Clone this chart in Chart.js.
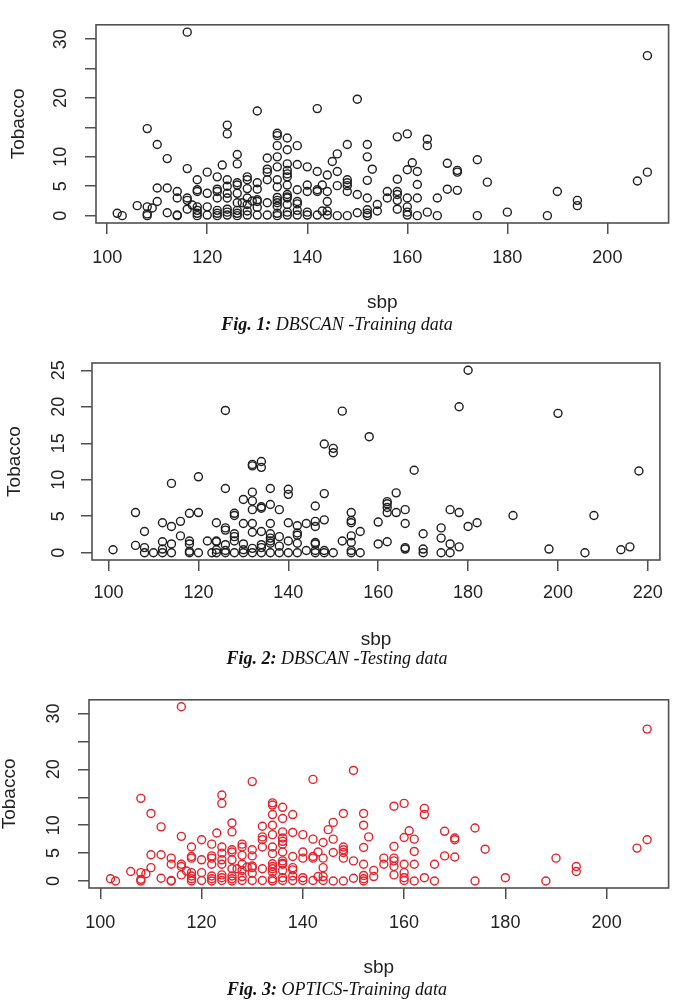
<!DOCTYPE html>
<html>
<head>
<meta charset="utf-8">
<script src="https://cdn.jsdelivr.net/npm/chart.js@4.4.1/dist/chart.umd.min.js"></script>
<style>
  html, body { margin: 0; padding: 0; background: #fff; }
  body { width: 674px; height: 1007px; position: relative; overflow: hidden; }
  canvas { position: absolute; left: 0; }
  .caption {
    position: absolute; left: 0; width: 674px; text-align: center;
    font-family: "Liberation Serif", "Times New Roman", serif; font-style: italic;
    font-size: 18px; line-height: 20px; color: #111;
  }
</style>
</head>
<body>

<canvas id="chart1" width="674" height="315" style="top:0px"></canvas>
<div class="caption" style="top:314px"><b>Fig. 1:</b> DBSCAN -Training data</div>

<canvas id="chart2" width="674" height="312" style="top:340px"></canvas>
<div class="caption" style="top:648px"><b>Fig. 2:</b> DBSCAN -Testing data</div>

<canvas id="chart3" width="674" height="305" style="top:675px"></canvas>
<div class="caption" style="top:979px"><b>Fig. 3:</b> OPTICS-Training data</div>

<script>

// training set (used by fig 1 and fig 3)
const trainSbp = [
  102,103,106,108,108,108,109,110,110,108,110,112,112,112,114,114,114,114,
  116,116,116,116,116,117,118,118,118,118,118,118,118,120,120,120,120,
  122,122,122,122,122,122,122,123,124,124,124,124,124,124,124,124,124,
  126,126,126,126,126,126,126,126,126,127,128,128,128,128,128,128,128,129,
  130,130,130,130,130,130,130,132,132,132,132,132,132,
  134,134,134,134,134,134,134,134,134,134,134,134,134,
  136,136,136,136,136,136,136,136,136,136,136,136,136,
  138,138,138,138,138,138,138,140,140,140,140,140,
  142,142,142,142,142,143,143,144,144,144,144,144,145,146,146,146,146,
  148,148,148,148,148,148,150,150,150,152,152,152,152,152,152,152,153,154,154,
  156,156,158,158,158,158,158,158,160,160,160,160,160,160,161,162,162,162,162,
  164,164,164,166,166,168,168,170,170,170,174,174,176,180,188,190,194,194,206,208,208
];
const trainTobacco = [
  0.4,0,1.7,1.5,0.3,0,1.3,2.4,4.7,14.8,12.1,9.7,4.7,0.5,4.1,3.0,0.1,0,
  31.2,8.0,3.0,2.6,1.1,1.8,6.1,4.4,4.1,1.5,0.9,0.4,0,7.4,3.8,1.5,0.1,
  6.6,4.5,4.1,3.0,0.9,0.4,0,8.6,15.4,13.9,6.1,5.0,3.8,3.0,1.1,0.6,0.1,
  10.4,8.8,5.6,5.2,3.8,2.2,0.9,0.4,0,2.2,6.6,6.1,4.6,3.0,1.9,0.8,0.1,2.5,
  17.8,5.6,4.5,2.7,2.4,1.4,0.1,9.8,7.9,7.4,6.1,2.2,0.1,
  14.0,13.6,11.9,10.0,8.3,6.1,4.9,3.1,2.6,2.2,1.6,0.4,0,
  13.2,11.2,8.8,7.7,7.1,6.6,5.2,3.6,3.2,3.0,1.9,0.6,0.1,
  11.9,8.7,4.4,2.4,2.0,0.9,0.1,8.3,5.2,4.1,0.6,0.1,
  18.2,7.5,4.4,4.1,0.1,5.2,0.8,6.9,4.1,2.4,0.8,0.1,9.2,10.5,7.5,5.1,0,
  12.1,6.1,5.6,5.1,4.1,0,19.8,3.6,0.5,12.1,10.0,6.0,3.0,1.0,0.4,0,7.9,1.9,0.8,
  4.1,3.0,13.4,6.2,4.1,3.6,2.6,1.1,13.9,7.8,3.0,1.5,0.6,0.1,9.0,7.5,5.3,3.0,0,
  13.0,11.9,0.6,3.0,0,8.9,4.5,7.7,7.4,4.3,9.5,0,5.7,0.6,0,4.1,2.6,1.7,5.9,7.4,27.2
];

// testing set (fig 2)
const testSbp = [
  101,106,106,108,108,108,110,112,112,112,112,114,114,114,114,116,116,
  118,118,118,118,118,120,120,120,122,123,124,124,124,124,124,
  126,126,126,126,126,126,126,128,128,128,128,128,128,130,130,130,130,130,
  132,132,132,132,132,132,132,132,132,134,134,134,134,134,134,134,134,
  136,136,136,136,136,136,136,136,138,138,138,138,140,140,140,140,140,
  142,142,142,142,142,144,144,146,146,146,146,146,146,146,148,148,148,148,148,
  150,150,150,152,152,154,154,154,154,154,154,154,156,156,158,160,160,
  162,162,162,162,162,164,164,166,166,166,166,168,170,170,170,174,174,174,
  176,176,176,178,178,178,180,180,182,190,198,200,206,208,214,216,218
];
const testTobacco = [
  0.4,5.5,1.0,2.9,0.7,0,0,4.1,1.5,0.5,0,9.5,3.6,1.2,0,4.3,2.3,
  5.4,1.6,1.2,0.2,0,10.4,5.5,0,1.6,0,4.1,1.6,1.5,0.4,0,
  19.5,8.8,3.4,3.1,1.1,0.3,0,5.4,5.1,2.6,2.2,1.6,0,7.3,4.0,1.2,0.4,0,
  12.1,11.9,8.3,7.1,5.9,4.0,2.8,0.6,0,12.5,11.7,6.3,6.1,2.9,1.1,0.7,0,
  8.8,6.6,4.0,2.6,2.0,1.6,1.3,0,5.9,2.2,0.9,0,8.7,8.0,4.1,1.6,0,
  3.7,2.7,2.4,1.3,0,4.0,0.3,6.4,4.3,3.6,1.4,1.2,0.3,0,14.9,8.1,4.5,0.3,0,
  14.3,13.7,0,19.4,1.6,5.5,4.4,4.1,2.3,1.4,0.3,0,2.9,0,15.9,4.2,1.2,
  7.0,6.7,6.2,5.5,1.5,8.2,5.5,5.9,4.0,0.7,0.5,11.3,2.6,0.5,0,3.4,2.0,0,
  5.9,1.2,0,20.0,5.5,0.8,25.0,3.6,4.1,5.1,0.5,19.1,0,5.1,0.4,0.8,11.2
];

const trainXTicks = [100, 120, 140, 160, 180, 200];
const trainYTicks = [0, 5, 10, 15, 20, 25, 30];
const trainYLabels = ['0', '5', '10', '', '20', '', '30'];
const testXTicks = [100, 120, 140, 160, 180, 200, 220];
const testYTicks = [0, 5, 10, 15, 20, 25];
const testYLabels = ['0', '5', '10', '15', '20', '25'];


function toPoints(xs, ys) {
  return xs.map((x, i) => ({ x: x, y: ys[i] }));
}

// R widens the data range by 4% on each side
function rRange(vals) {
  const lo = Math.min(...vals);
  const hi = Math.max(...vals);
  const d = (hi - lo) * 0.04;
  return [lo - d, hi + d];
}

// the closed box R draws round the plot region
const boxPlugin = {
  id: 'rbox',
  afterDraw(chart) {
    const a = chart.chartArea;
    const ctx = chart.ctx;
    ctx.save();
    ctx.strokeStyle = '#505050';
    ctx.lineWidth = 1.6;
    ctx.strokeRect(a.left, a.top, a.right - a.left, a.bottom - a.top);
    ctx.restore();
  }
};

function drawPanel(id, g, xs, ys, xTicks, yTicks, yLabels, color) {

  const xr = rRange(xs);
  const yr = rRange(ys);
  const tickFont = { family: 'Liberation Sans', size: 18 };
  const titleFont = { family: 'Liberation Sans', size: 19, lineHeight: 1 };
  const gridOpts = { drawOnChartArea: false, drawTicks: true, tickLength: 11, color: '#505050', lineWidth: 1.5 };

  const ctx = document.getElementById(id).getContext('2d');
  new Chart(ctx, {
    type: 'scatter',
    data: {
      datasets: [{
        data: toPoints(xs, ys),
        pointStyle: 'circle',
        pointRadius: 4,
        pointBorderWidth: 1.4,
        borderColor: color,
        backgroundColor: 'rgba(0,0,0,0)'
      }]
    },
    options: {
      responsive: false,
      animation: false,
      events: [],
      layout: { padding: { left: 0, top: g.top, right: 674 - g.right, bottom: 0 } },
      plugins: { legend: { display: false }, tooltip: { enabled: false } },
      scales: {
        x: {
          type: 'linear',
          min: xr[0],
          max: xr[1],
          afterBuildTicks: (s) => { s.ticks = xTicks.map(v => ({ value: v })); },
          afterFit: (s) => { s.height = g.h - g.bottom; },
          grid: gridOpts,
          border: { display: false },
          ticks: { padding: g.xPad, color: '#222', font: tickFont, maxRotation: 0, autoSkip: false },
          title: { display: true, text: 'sbp', color: '#222', font: titleFont, padding: { top: 0, bottom: 2.5 } }
        },
        y: {
          type: 'linear',
          min: yr[0],
          max: yr[1],
          afterBuildTicks: (s) => { s.ticks = yTicks.map(v => ({ value: v })); },
          afterFit: (s) => { s.width = g.left; },
          grid: gridOpts,
          border: { display: false },
          ticks: {
            padding: g.yPad, color: '#222', font: tickFont, autoSkip: false,
            minRotation: 90, maxRotation: 90, crossAlign: 'center',
            callback: (v, i) => yLabels[i]
          },
          title: { display: true, text: 'Tobacco', color: '#222', font: titleFont, padding: { top: g.yTitle, bottom: 0 } }
        }
      }
    },
    plugins: [boxPlugin]
  });

}

const geom1 = { h: 315, top: 9, bottom: 223, left: 96, right: 672, xPad: 13, yPad: 14, yTitle: 9 };
const geom2 = { h: 312, top: 23, bottom: 220, left: 92, right: 669, xPad: 11, yPad: 12, yTitle: 5.5 };
const geom3 = { h: 305, top: 15, bottom: 213, left: 89, right: 670, xPad: 13, yPad: 14, yTitle: 0.5 };

drawPanel('chart1', geom1, trainSbp, trainTobacco, trainXTicks, trainYTicks, trainYLabels, '#1e1e1e');
drawPanel('chart2', geom2, testSbp, testTobacco, testXTicks, testYTicks, testYLabels, '#1e1e1e');
drawPanel('chart3', geom3, trainSbp, trainTobacco, trainXTicks, trainYTicks, trainYLabels, '#e8202a');

</script>
</body>
</html>
